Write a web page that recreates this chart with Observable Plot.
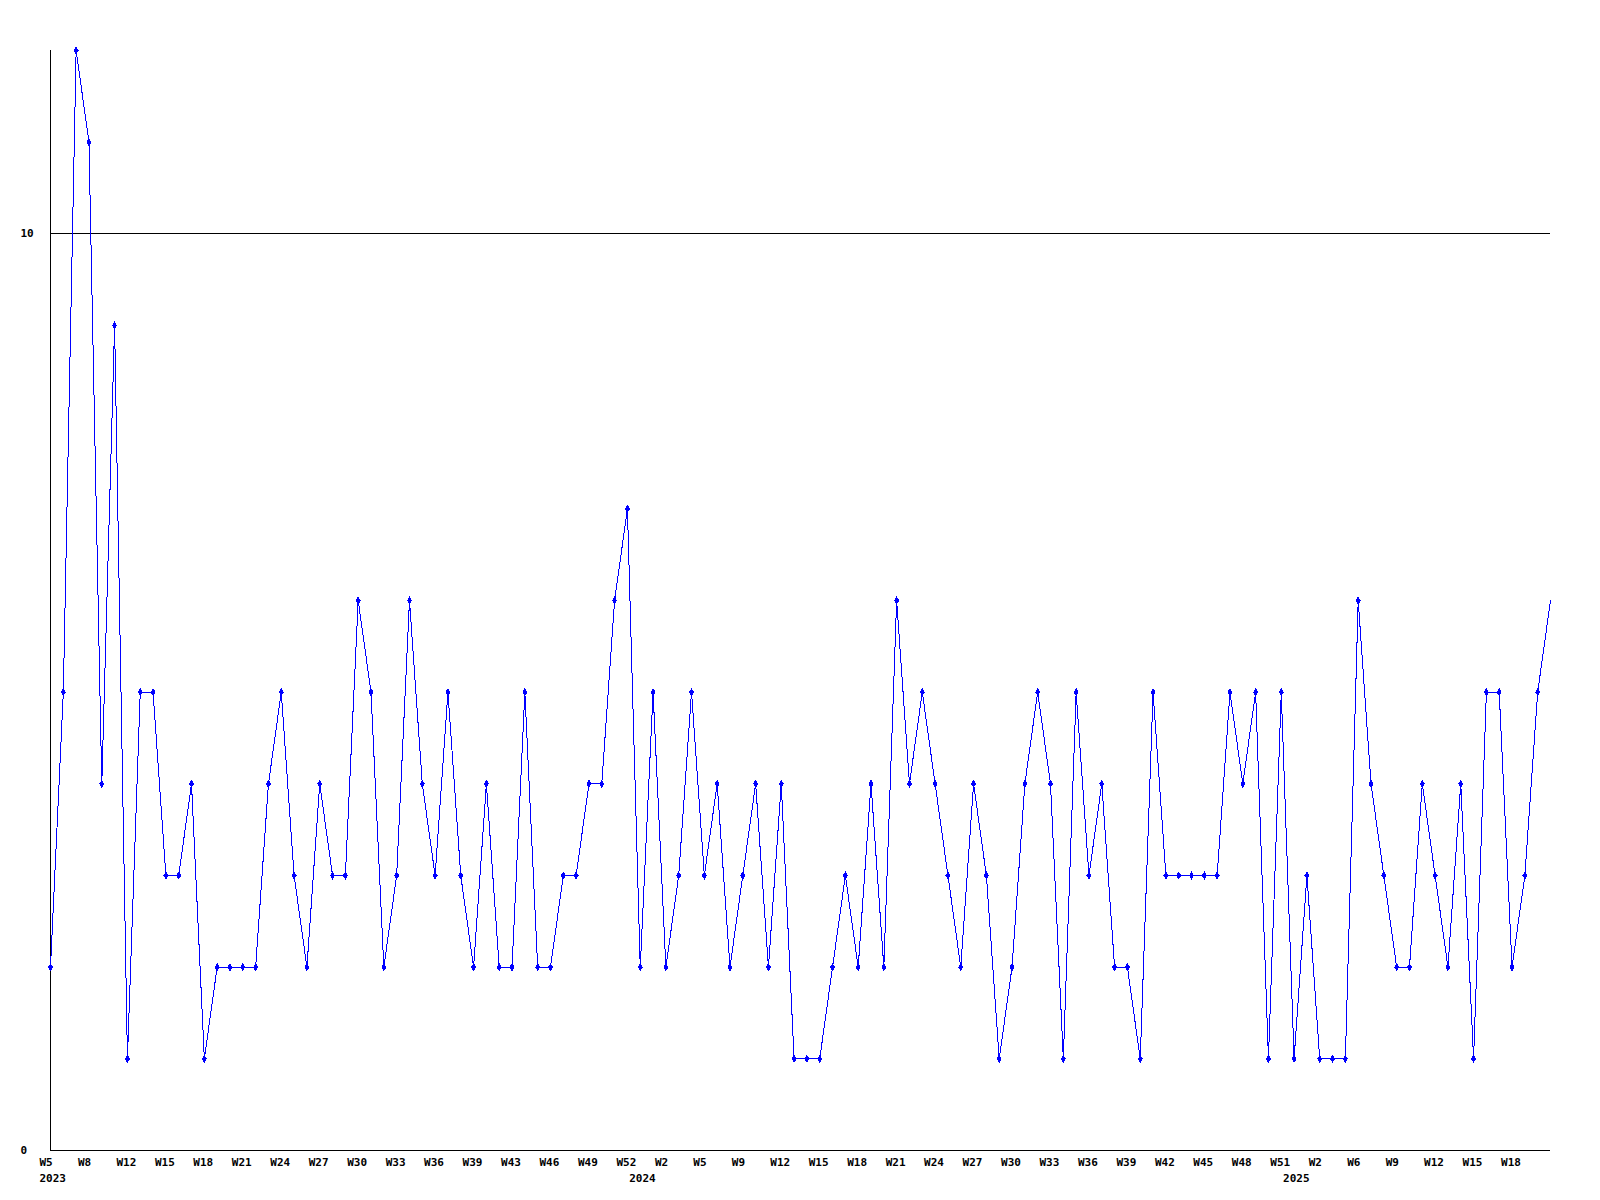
<!DOCTYPE html>
<html>
<head>
<meta charset="utf-8">
<script src="https://cdn.jsdelivr.net/npm/d3@7"></script>
<script src="https://cdn.jsdelivr.net/npm/@observablehq/plot@0.6"></script>
<style>
  html, body { margin: 0; padding: 0; background: #ffffff; }
  #chart svg { display: block; }
</style>
</head>
<body>
<div id="chart"></div>
<script>
// Weekly counts
const values = [2,5,12,11,4,9,1,5,5,3,3,4,1,2,2,2,2,4,5,3,2,4,3,3,6,5,2,3,6,4,3,5,3,2,4,2,2,5,2,2,3,3,4,4,6,7,2,5,2,3,5,3,4,2,3,4,2,4,1,1,1,2,3,2,4,2,6,4,5,4,3,2,4,3,1,2,4,5,4,1,5,3,4,2,2,1,5,3,3,3,3,3,5,4,5,1,5,1,3,1,1,1,6,4,3,2,2,4,3,2,4,1,5,5,2,3,5,6];

// Week labels shown on every third point
const weekLabels = ["W5","W8","W12","W15","W18","W21","W24","W27","W30","W33","W36","W39","W43","W46","W49","W52",
                    "W2","W5","W9","W12","W15","W18","W21","W24","W27","W30","W33","W36","W39","W42","W45","W48","W51",
                    "W2","W6","W9","W12","W15","W18"];
const labelEvery = 3;

// Year labels and the point index where each year starts
const yearLabels = ["2023","2024","2025"];
const yearStarts = [0, 46, 97];

// Y axis ticks
const yTicks = [0, 10];
const yMax = 12;

const points = values.map((v, i) => ({i, v}));
// the last (still open) point is drawn without a marker
const markedPoints = points.slice(0, -1);
const weekTicks = weekLabels.map((label, k) => ({i: k * labelEvery, label}));
const yearTicks = yearLabels.map((label, k) => ({i: yearStarts[k], label}));

const chart = Plot.plot({
  width: 1600,
  height: 1200,
  marginLeft: 50,
  marginRight: 50,
  marginTop: 50,
  marginBottom: 50,
  style: {fontFamily: "'DejaVu Sans Mono', monospace", fontSize: "11px", fontWeight: "bold", background: "#ffffff", shapeRendering: "crispEdges"},
  x: {domain: [0, values.length - 1], axis: null},
  y: {domain: [0, yMax], axis: null},
  marks: [
    Plot.ruleY(yTicks, {stroke: "#000000", strokeWidth: 1}),
    Plot.ruleX([0], {y1: 0, y2: yMax, stroke: "#000000", strokeWidth: 1}),
    Plot.line(points, {x: "i", y: "v", stroke: "#0000ff", strokeWidth: 1}),
    Plot.dot(markedPoints, {x: "i", y: "v", symbol: "diamond", r: 2.6, fill: "#0000ff", stroke: "none"}),
    Plot.text(yTicks, {y: d => d, text: d => String(d), frameAnchor: "left", textAnchor: "start", dx: -30, fill: "#000000"}),
    Plot.text(weekTicks, {x: "i", text: "label", frameAnchor: "bottom", textAnchor: "start", lineAnchor: "middle", dx: -11, dy: 12, fill: "#000000"}),
    Plot.text(yearTicks, {x: "i", text: "label", frameAnchor: "bottom", textAnchor: "start", lineAnchor: "middle", dx: -11, dy: 28, fill: "#000000"})
  ]
});
document.getElementById("chart").appendChild(chart);
</script>
</body>
</html>
